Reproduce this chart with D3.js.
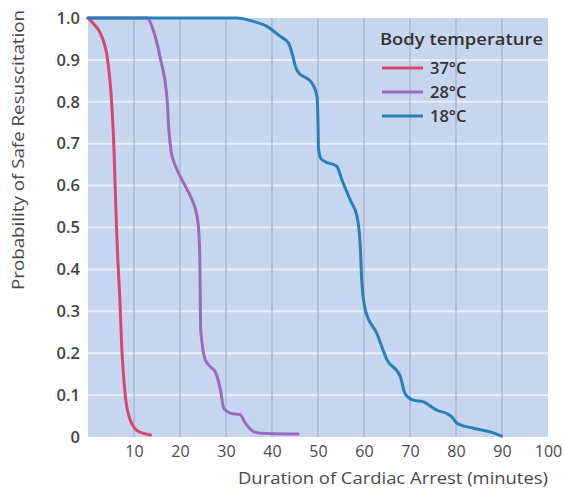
<!DOCTYPE html>
<html>
<head>
<meta charset="utf-8">
<script src="https://cdn.jsdelivr.net/npm/d3@7"></script>
<style>
  body { margin: 0; background: #fff; }
  text { font-family: "Open Sans", "Noto Sans", sans-serif; }
</style>
</head>
<body>
<div id="chart"></div>
<script>
// minutes of cardiac arrest vs probability of safe resuscitation
const temp37 = [[0,1],[1.3,0.985],[2.7,0.963],[4.2,0.905],[5.1,0.805],[5.6,0.7],[5.9,0.6],[6.2,0.5],[6.5,0.42],[6.9,0.335],[7.4,0.2],[8.1,0.1],[9.2,0.04],[11.0,0.013],[13.6,0.005]];
const temp28 = [[0,1],[12.9,1],[13.9,0.98],[15.7,0.905],[17.2,0.805],[17.6,0.73],[18.1,0.68],[18.9,0.65],[20.8,0.606],[22.6,0.566],[23.7,0.527],[24.1,0.487],[24.35,0.4],[24.4,0.335],[24.5,0.256],[25.5,0.184],[26.6,0.168],[27.7,0.155],[28.8,0.112],[29.5,0.069],[30.9,0.057],[33.1,0.053],[34.2,0.033],[36.0,0.013],[37.5,0.009],[45.7,0.007]];
const temp18 = [[0,1],[32.4,1],[35.9,0.992],[38.9,0.98],[41.8,0.956],[43.6,0.94],[44.5,0.91],[45.1,0.884],[45.9,0.868],[47.6,0.856],[48.6,0.846],[49.8,0.812],[50.0,0.75],[50.1,0.69],[50.6,0.665],[51.6,0.657],[54.1,0.646],[55.2,0.614],[57.0,0.566],[58.5,0.526],[59.2,0.454],[59.5,0.375],[60.3,0.303],[62.8,0.247],[65.0,0.184],[67.9,0.144],[68.9,0.104],[70.7,0.088],[72.9,0.084],[75.8,0.064],[78.0,0.056],[79.1,0.048],[80.2,0.033],[83.8,0.021],[88.1,0.01],[89.9,0.002]];

const seriesNames = ["37°C", "28°C", "18°C"];
const seriesColors = ["#d8466f", "#9b6abf", "#2a7fb6"];
const xTicks = [10, 20, 30, 40, 50, 60, 70, 80, 90, 100];
const yTicks = [0, 0.1, 0.2, 0.3, 0.4, 0.5, 0.6, 0.7, 0.8, 0.9, 1.0];

const W = 564, H = 489;
const margin = {top: 18, right: 16, bottom: 52, left: 88};
const width = W - margin.left - margin.right,
    height = H - margin.top - margin.bottom;

const svg = d3.select("#chart")
    .append("svg")
    .attr("width", W)
    .attr("height", H);

const g = svg.append("g")
    .attr("transform", `translate(${margin.left}, ${margin.top})`);

const x = d3.scaleLinear().domain([0, 100]).range([0, width]);
const y = d3.scaleLinear().domain([0, 1]).range([height, 0]);

g.append("rect")
    .attr("width", width)
    .attr("height", height)
    .attr("fill", "#c6d6ee");

// horizontal grid (white)
g.selectAll(".hgrid")
    .data(yTicks.filter(d => d > 0 && d < 1))
    .enter().append("line")
    .attr("x1", 0).attr("x2", width)
    .attr("y1", d => y(d)).attr("y2", d => y(d))
    .attr("stroke", "#e8eef8")
    .attr("stroke-width", 2);

// vertical grid (grey-blue)
g.selectAll(".vgrid")
    .data(xTicks.filter(d => d < 100))
    .enter().append("line")
    .attr("x1", d => x(d)).attr("x2", d => x(d))
    .attr("y1", 0).attr("y2", height)
    .attr("stroke", "#a3b3cc")
    .attr("stroke-width", 1.3);

// axes
const xAxis = g.append("g")
    .attr("transform", `translate(0, ${height})`)
    .call(d3.axisBottom(x).tickValues(xTicks).tickSize(0).tickPadding(9));
xAxis.select(".domain").remove();
xAxis.selectAll("text")
    .attr("font-size", 16)
    .attr("fill", "#4a4a4a")
    .style("font-family", "'Open Sans', sans-serif");

const yAxis = g.append("g")
    .call(d3.axisLeft(y).tickValues(yTicks)
        .tickFormat(d => d === 0 ? "0" : d3.format(".1f")(d))
        .tickSize(0).tickPadding(8));
yAxis.select(".domain").remove();
yAxis.selectAll("text")
    .attr("font-size", 16.5)
    .attr("font-weight", 600)
    .attr("fill", "#444")
    .style("font-family", "'Open Sans', sans-serif");

svg.append("text")
    .attr("x", margin.left + width)
    .attr("y", 484)
    .attr("text-anchor", "end")
    .attr("font-size", 16)
    .attr("textLength", 310)
    .attr("lengthAdjust", "spacingAndGlyphs")
    .attr("fill", "#4a4a4a")
    .text("Duration of Cardiac Arrest (minutes)");

svg.append("text")
    .attr("transform", "translate(24, 10) rotate(-90)")
    .attr("text-anchor", "end")
    .attr("font-size", 16)
    .attr("textLength", 280)
    .attr("lengthAdjust", "spacingAndGlyphs")
    .attr("fill", "#4a4a4a")
    .text("Probability of Safe Resuscitation");

// curves
const line = d3.line()
    .x(d => x(d[0]))
    .y(d => y(d[1]))
    .curve(d3.curveMonotoneX);

[temp37, temp28, temp18].forEach((data, i) => {
    g.append("path")
        .datum(data)
        .attr("d", line)
        .attr("fill", "none")
        .attr("stroke", seriesColors[i])
        .attr("stroke-width", 3)
        .attr("stroke-linejoin", "round")
        .attr("stroke-linecap", "round");
});

// legend
const legend = svg.append("g").attr("transform", "translate(380, 0)");
legend.append("text")
    .attr("x", 0).attr("y", 45)
    .attr("font-size", 16.5)
    .attr("font-weight", 600)
    .attr("textLength", 163)
    .attr("lengthAdjust", "spacingAndGlyphs")
    .attr("fill", "#333")
    .text("Body temperature");

seriesNames.forEach((name, i) => {
    const ly = 68 + i * 24;
    legend.append("line")
        .attr("x1", 2).attr("x2", 43)
        .attr("y1", ly).attr("y2", ly)
        .attr("stroke", seriesColors[i])
        .attr("stroke-width", 3);
    legend.append("text")
        .attr("x", 50).attr("y", ly + 6)
        .attr("font-size", 16.5)
        .attr("font-weight", 600)
        .attr("fill", "#333")
        .text(name);
});
</script>
</body>
</html>
